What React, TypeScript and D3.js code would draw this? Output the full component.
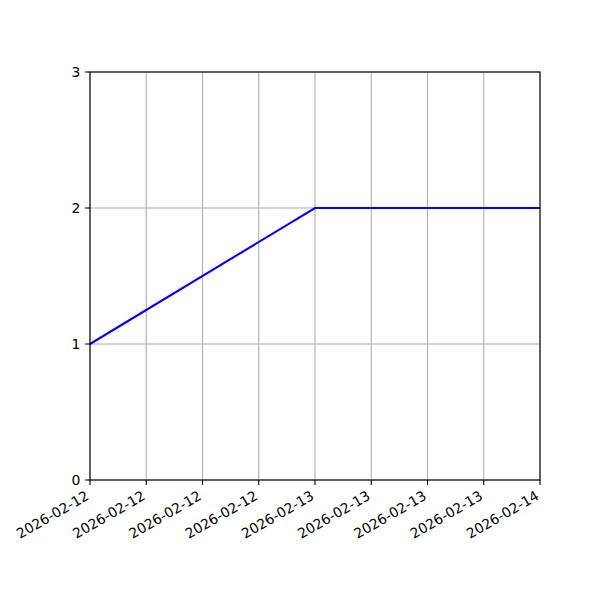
import * as d3 from 'd3'

const dates = ['2026-02-12T00:00:00Z', '2026-02-13T00:00:00Z', '2026-02-14T00:00:00Z']
const values = [1, 2, 2]
const yTicks = [0, 1, 2, 3]
const xTickHours = 6

const width = 600
const height = 600
const margin = { top: 72, right: 60, bottom: 120, left: 90 }
const font = 'DejaVu Sans, sans-serif'

const App = () => {
  const data = dates.map((d, i) => ({ date: new Date(d), value: values[i] }))
  const extent = d3.extent(data, d => d.date) as [Date, Date]

  const xScale = d3
    .scaleUtc()
    .domain(extent)
    .range([margin.left, width - margin.right])
  const yScale = d3
    .scaleLinear()
    .domain([0, 3])
    .range([height - margin.bottom, margin.top])

  const xTicks = d3.utcHour.every(xTickHours)!.range(extent[0], d3.utcHour.offset(extent[1], 1))
  const fmt = d3.utcFormat('%Y-%m-%d')

  const lineGen = d3
    .line<{ date: Date; value: number }>()
    .x(d => xScale(d.date))
    .y(d => yScale(d.value))

  const x0 = margin.left
  const x1 = width - margin.right
  const y0 = height - margin.bottom
  const y1 = margin.top

  return (
    <svg width={width} height={height} style={{ position: 'absolute', left: 0, top: 0 }}>
      <rect x={0} y={0} width={width} height={height} fill="white" />
      {xTicks.map((t, i) => (
        <line key={'gx' + i} x1={xScale(t)} x2={xScale(t)} y1={y0} y2={y1} stroke="#b0b0b0" strokeWidth={1.1} />
      ))}
      {yTicks.map((t, i) => (
        <line key={'gy' + i} x1={x0} x2={x1} y1={yScale(t)} y2={yScale(t)} stroke="#b0b0b0" strokeWidth={1.1} />
      ))}
      <path d={lineGen(data) ?? ''} fill="none" stroke="#0000ff" strokeWidth={2.08} />
      <rect x={x0} y={y1} width={x1 - x0} height={y0 - y1} fill="none" stroke="black" strokeWidth={1.1} />
      {xTicks.map((t, i) => (
        <g key={'tx' + i}>
          <line x1={xScale(t)} x2={xScale(t)} y1={y0} y2={y0 + 4.9} stroke="black" strokeWidth={1.1} />
          <text
            transform={`translate(${xScale(t) - 5},${y0 + 10}) rotate(-30)`}
            textAnchor="end"
            dy="0.72em"
            fontFamily={font}
            fontSize={13.9}
          >
            {fmt(t)}
          </text>
        </g>
      ))}
      {yTicks.map((t, i) => (
        <g key={'ty' + i}>
          <line x1={x0 - 4.9} x2={x0} y1={yScale(t)} y2={yScale(t)} stroke="black" strokeWidth={1.1} />
          <text x={x0 - 9.7} y={yScale(t)} dy="0.35em" textAnchor="end" fontFamily={font} fontSize={13.9}>
            {t}
          </text>
        </g>
      ))}
    </svg>
  )
}

export default App
